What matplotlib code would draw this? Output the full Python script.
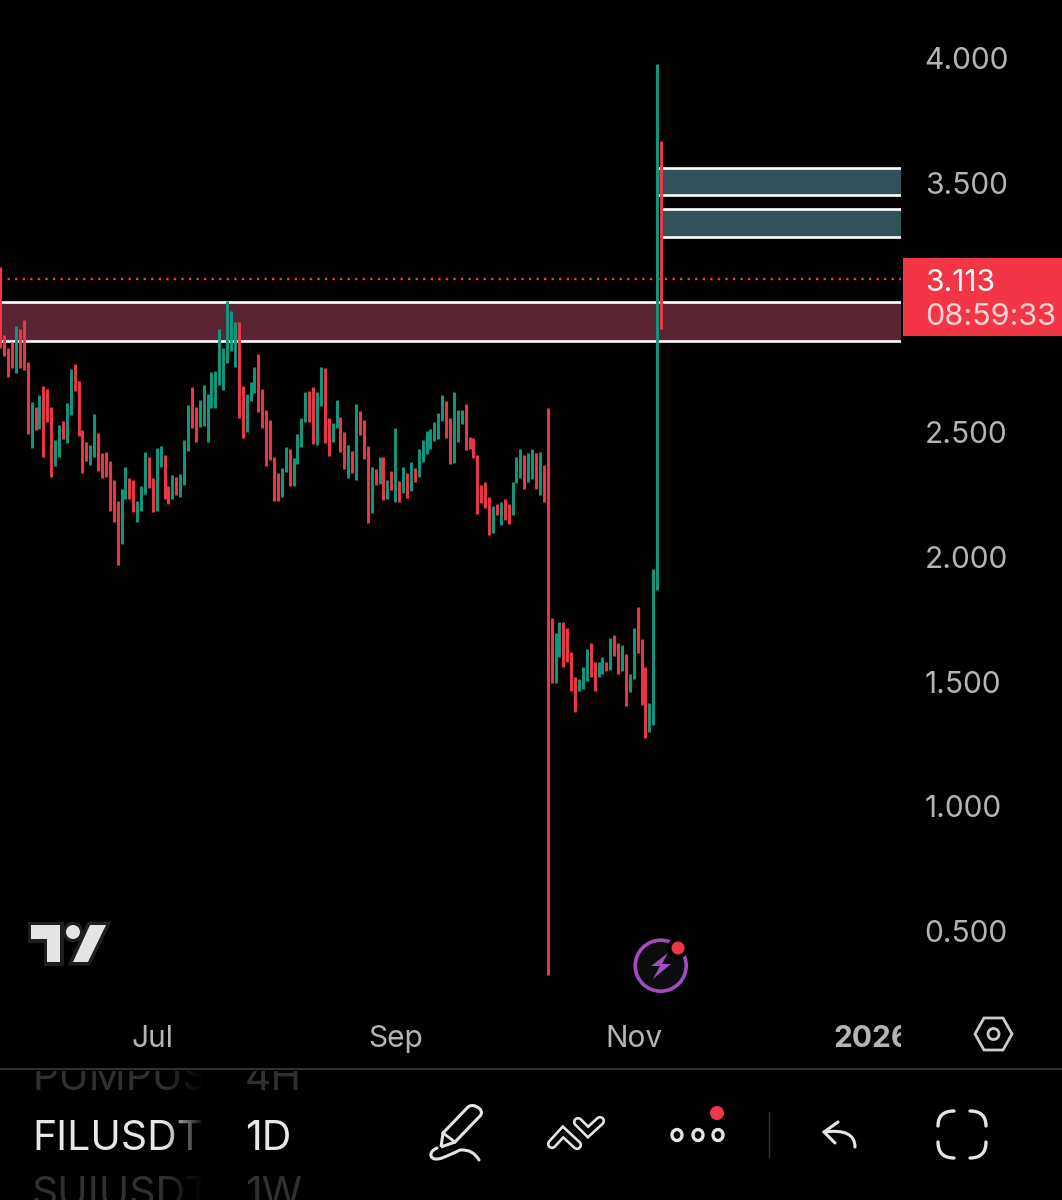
import numpy as np
import pandas as pd
import matplotlib
matplotlib.use("Agg")
import matplotlib.pyplot as plt
import matplotlib.dates as mdates
from matplotlib.patches import Rectangle, Circle, Ellipse, Polygon, PathPatch
from matplotlib.path import Path

plt.rcParams['font.family'] = ['Inter', 'DejaVu Sans']

# ---------- data ----------
start_date = '2025-05-23'
highs = [3.163,2.889,2.836,2.863,2.925,2.912,2.950,2.780,2.622,2.599,2.650,2.686,2.673,2.602,2.467,2.529,2.543,2.616,2.752,2.772,
         2.704,2.507,2.461,2.447,2.571,2.498,2.416,2.419,2.386,2.306,2.223,2.271,2.359,2.315,2.306,2.224,2.284,2.419,2.399,2.318,
         2.437,2.446,2.408,2.282,2.327,2.322,2.331,2.469,2.607,2.680,2.602,2.629,2.689,2.653,2.741,2.746,2.912,2.839,3.024,2.987,
         2.943,2.940,2.686,2.652,2.702,2.762,2.812,2.673,2.589,2.549,2.399,2.335,
         2.355,2.439,2.434,2.395,2.491,2.558,2.662,2.663,2.682,2.662,2.760,2.757,2.555,2.538,2.629,2.562,2.499,2.450,2.426,2.611,
         2.586,2.548,2.446,2.359,2.352,2.401,2.399,2.308,2.343,2.518,2.305,2.359,2.336,2.381,2.356,2.432,2.467,2.504,2.511,2.542,
         2.575,2.649,2.626,2.555,2.659,2.589,2.587,2.613,2.479,2.476,2.408,2.288,2.299,2.240,2.204,2.210,2.220,2.233,2.213,2.301,
         2.399,2.432,2.407,2.415,2.434,2.415,2.419,2.368,2.597,
         1.753,1.696,1.740,1.740,1.713,1.617,1.517,1.510,1.557,1.629,1.653,1.577,1.577,1.597,1.578,1.676,1.685,1.653,1.645,1.610,
         1.529,1.716,1.797,1.669,1.557,1.415,1.950,3.976,3.667]
lows = [2.836,2.805,2.722,2.756,2.736,2.758,2.749,2.493,2.438,2.509,2.514,2.402,2.542,2.322,2.364,2.402,2.471,2.455,2.570,2.666,
        2.486,2.338,2.386,2.368,2.402,2.344,2.318,2.320,2.185,2.139,1.966,2.050,2.231,2.233,2.179,2.141,2.185,2.251,2.276,2.181,
        2.185,2.359,2.232,2.212,2.233,2.248,2.241,2.287,2.426,2.515,2.462,2.522,2.526,2.462,2.595,2.595,2.689,2.669,2.776,2.827,
        2.760,2.558,2.475,2.502,2.625,2.658,2.579,2.517,2.364,2.388,2.223,2.225,
        2.238,2.341,2.283,2.284,2.371,2.442,2.539,2.539,2.451,2.448,2.605,2.455,2.404,2.462,2.515,2.422,2.353,2.317,2.335,2.308,
        2.488,2.391,2.137,2.174,2.289,2.291,2.229,2.232,2.268,2.221,2.218,2.255,2.236,2.263,2.301,2.321,2.381,2.411,2.434,2.466,
        2.472,2.546,2.475,2.371,2.375,2.459,2.532,2.428,2.431,2.395,2.170,2.214,2.194,2.088,2.097,2.168,2.128,2.148,2.130,2.168,
        2.295,2.315,2.272,2.299,2.311,2.272,2.248,2.221,0.323,
        1.493,1.495,1.597,1.559,1.580,1.463,1.376,1.463,1.471,1.501,1.519,1.461,1.519,1.530,1.543,1.545,1.602,1.531,1.542,1.400,
        1.457,1.509,1.613,1.407,1.272,1.299,1.326,1.867,2.914]
rising = [0,0,0,0,1,0,0,0,1,0,1,0,0,0,1,1,0,1,1,0,
          0,0,0,1,1,0,0,0,0,0,0,1,1,0,0,1,1,1,0,0,
          1,1,0,0,1,0,1,1,1,0,0,1,1,1,1,1,1,1,1,1,
          1,0,0,1,1,1,0,0,0,0,0,0,
          1,1,0,1,1,1,1,0,0,1,1,0,0,1,1,0,0,1,0,1,
          0,0,0,1,0,1,0,1,0,1,0,1,0,1,0,1,1,1,1,1,
          1,1,0,0,1,1,1,0,0,0,0,0,0,0,1,0,1,0,0,1,
          1,1,0,1,1,0,1,0,0,
          0,1,1,0,0,0,0,1,1,1,0,0,1,1,0,1,0,0,1,0,
          1,1,0,0,0,1,1,1,0]
price_ticks = [0.5, 1.0, 1.5, 2.0, 2.5, 3.0, 3.5, 4.0]
price_tick_labels = ['0.500', '1.000', '1.500', '2.000', '2.500', '', '3.500', '4.000']
month_ticks = ['2025-07-01', '2025-09-01', '2025-11-01', '2026-01-01']
month_labels = ['Jul', 'Sep', 'Nov', '2026']
last_price = 3.113
countdown = '08:59:33'
resistance_zone = (2.865, 3.022)
upper_zones = [(3.451, 3.559, '2025-11-07'), (3.282, 3.395, '2025-11-08')]

# ---------- colours ----------
BG = '#000000'; RED = '#f23645'; GREEN = '#0f9a80'; AXT = '#b4b4b4'
W, H = 1062, 1200
fig = plt.figure(figsize=(W/100, H/100), dpi=100, facecolor=BG)
plot_bottom = 1010
ax = fig.add_axes([0, 1-plot_bottom/H, 901/W, plot_bottom/H], facecolor=BG)
for s in ax.spines.values():
    s.set_visible(False)

dates = pd.date_range(start_date, periods=len(highs))
x = mdates.date2num(dates)
ax.set_xlim(x[0]-0.08, x[0]-0.08+901/3.91)
ax.set_ylim(0.183, 4.2325)

xmax = ax.get_xlim()[1]
ax.axhspan(*resistance_zone, facecolor='#5a2435', edgecolor='none', zorder=1)
for v in resistance_zone:
    ax.axhline(v, color='white', lw=1.9, zorder=3)
for lo, hi, d in upper_zones:
    d0 = mdates.date2num(pd.Timestamp(d)) + 0.3
    ax.fill_between([d0, xmax], lo, hi, facecolor='#32525a', edgecolor='none', zorder=1)
    ax.hlines([lo, hi], d0, xmax, color='white', lw=1.9, zorder=3)
ax.axhline(last_price, color=RED, lw=1.7, ls=(0, (1, 2.2)), zorder=2)

cols = [GREEN if r else RED for r in rising]
ax.vlines(x, lows, highs, colors=cols, lw=2.1, zorder=4, capstyle='butt')

ax.yaxis.tick_right()
ax.set_yticks(price_ticks, price_tick_labels)
ax.tick_params(axis='y', length=0, pad=17, labelsize=21.5, labelcolor=AXT)
ax.set_xticks(mdates.date2num(pd.to_datetime(month_ticks)), month_labels)
ax.tick_params(axis='x', length=0, pad=11, labelsize=21.5, labelcolor=AXT)
ax.get_xticklabels()[-1].set_fontweight('bold')

# ---------- overlay in pixel space for the app chrome ----------
ov = fig.add_axes([0, 0, 1, 1], facecolor='none', zorder=10)
ov.set_xlim(0, W); ov.set_ylim(H, 0); ov.axis('off')

# mask clipping "2026"
ov.add_patch(Rectangle((901, 1012), 70, 50, fc=BG, ec='none'))

# last price tag
ov.add_patch(Rectangle((903, 258), 159, 78, fc=RED, ec='none'))
ov.text(925, 283, f'{last_price:.3f}', color='white', fontsize=21.5, va='center', ha='left')
ov.text(925, 317, countdown, color='#ffd5d9', fontsize=22, va='center', ha='left')

# TV logo
LOGO = '#e4e4e4'; halo = '#1f1f1f'
t_pts = [(31, 925), (59.5, 925), (59.5, 962), (47, 962), (47, 939), (31, 939)]
s_pts = [(90, 925), (106, 925), (88, 962), (73, 962)]
for poly in (t_pts, s_pts):
    ov.add_patch(Polygon(poly, closed=True, fc='none', ec=halo, lw=5, joinstyle='miter', zorder=1.5))
ov.add_patch(Circle((73, 932), 7.5, fc=BG, ec=halo, lw=4, zorder=1.5))
for poly in (t_pts, s_pts):
    ov.add_patch(Polygon(poly, closed=True, fc=LOGO, ec='none', zorder=2))
ov.add_patch(Circle((73, 932), 7, fc=LOGO, ec='none', zorder=2))

# lightning badge
ov.add_patch(Circle((660.7, 965.7), 25.5, fc='#0c0c0c', ec='#a24bc0', lw=2.6, zorder=2))
ov.add_patch(Polygon([(668, 953), (651, 966), (660, 966), (653, 979), (671, 964), (662, 964)],
                     closed=True, fc='#a24bc0', ec='none', zorder=3))
ov.add_patch(Circle((678, 948), 10.5, fc=BG, ec='none', zorder=3))
ov.add_patch(Circle((678, 948), 6.5, fc=RED, ec='none', zorder=4))

# settings hexagon
ov.add_patch(Polygon([(975, 1034), (984, 1018), (1003, 1018), (1012, 1034), (1003, 1050), (984, 1050)],
                     closed=True, fc='none', ec='#cccccc', lw=2))
ov.add_patch(Circle((993.5, 1034), 5.5, fc='none', ec='#cccccc', lw=2))

# toolbar separator
ov.plot([0, W], [1069, 1069], color='#3a3a3a', lw=1.2)

# symbol / interval picker
pick = [('PUMPUS', '4H', 1079, '#303030'), ('FILUSDT', '1D', 1139, '#e8e8e8'), ('SUIUSDT', '1W', 1195, '#303030')]
clip_box = Rectangle((0, 1071), W, 129, transform=ov.transData)
for sym, iv, y, c in pick:
    a = ov.text(32, y, sym, color=c, fontsize=29.5, va='center', ha='left', clip_on=True)
    b = ov.text(245, y, iv, color=c, fontsize=29.5, va='center', ha='left', clip_on=True)
    a.set_clip_path(clip_box); b.set_clip_path(clip_box)
fade = np.zeros((1, 40, 4)); fade[..., 3] = np.linspace(0, 1, 40)
ov.imshow(fade, extent=(165, 205, 1200, 1071), aspect='auto', zorder=5)
ov.add_patch(Rectangle((205, 1071), 38, 129, fc=BG, ec='none', zorder=5))
ov.set_xlim(0, W); ov.set_ylim(H, 0)

IC = '#e4e4e4'
# pen
pen = Path([(441, 1147), (443, 1133), (468, 1107), (473, 1103), (480, 1109), (483, 1113), (480, 1116),
            (455, 1142), (441, 1147)],
           [Path.MOVETO, Path.LINETO, Path.LINETO, Path.CURVE3, Path.CURVE3, Path.CURVE3, Path.CURVE3,
            Path.LINETO, Path.LINETO])
ov.add_patch(PathPatch(pen, fc='none', ec=IC, lw=2.2, joinstyle='round'))
ov.plot([443, 455], [1133, 1142], color=IC, lw=2)
curl = Path([(437, 1148), (430, 1151), (431, 1156), (433, 1161), (442, 1158), (450, 1155), (460, 1150),
             (473, 1149), (479, 1160)],
            [Path.MOVETO, Path.CURVE3, Path.CURVE3, Path.CURVE3, Path.CURVE3, Path.CURVE3, Path.CURVE3,
             Path.CURVE3, Path.CURVE3])
ov.add_patch(PathPatch(curl, fc='none', ec=IC, lw=2.2, capstyle='round'))

# trend icon (two outlined chevrons)
chev = [([552, 563, 577], [1144, 1132, 1145]), ([578, 588, 600], [1122, 1132, 1121])]
for cx, cy in chev:
    ov.plot(cx, cy, color=IC, lw=7.4, solid_joinstyle='miter', solid_capstyle='round')
    ov.plot(cx, cy, color=BG, lw=3.6, solid_joinstyle='miter', solid_capstyle='round')

# dots
for cx in (677, 698, 718):
    ov.add_patch(Ellipse((cx, 1135), 10, 11, fc='none', ec=IC, lw=2.4))
ov.add_patch(Circle((717, 1113), 7, fc=RED, ec='none'))
ov.plot([769, 769], [1112, 1157], color='#333333', lw=1)

# undo
ov.plot([838, 824, 835], [1122, 1132, 1143], color=IC, lw=2.2, solid_joinstyle='round', solid_capstyle='round')
und = Path([(824, 1132), (855, 1128), (855, 1147)], [Path.MOVETO, Path.CURVE3, Path.CURVE3])
ov.add_patch(PathPatch(und, fc='none', ec=IC, lw=2.2, capstyle='round'))

# fullscreen corners
def corner(p0, c, p1):
    ov.add_patch(PathPatch(Path([p0, c, p1], [Path.MOVETO, Path.CURVE3, Path.CURVE3]),
                           fc='none', ec=IC, lw=2.4, capstyle='round'))
corner((938, 1126), (938, 1111), (954, 1111))
corner((970, 1111), (986, 1111), (986, 1126))
corner((938, 1142), (938, 1158), (954, 1158))
corner((970, 1158), (986, 1158), (986, 1142))

fig.savefig('out.png', dpi=100, facecolor=BG)
